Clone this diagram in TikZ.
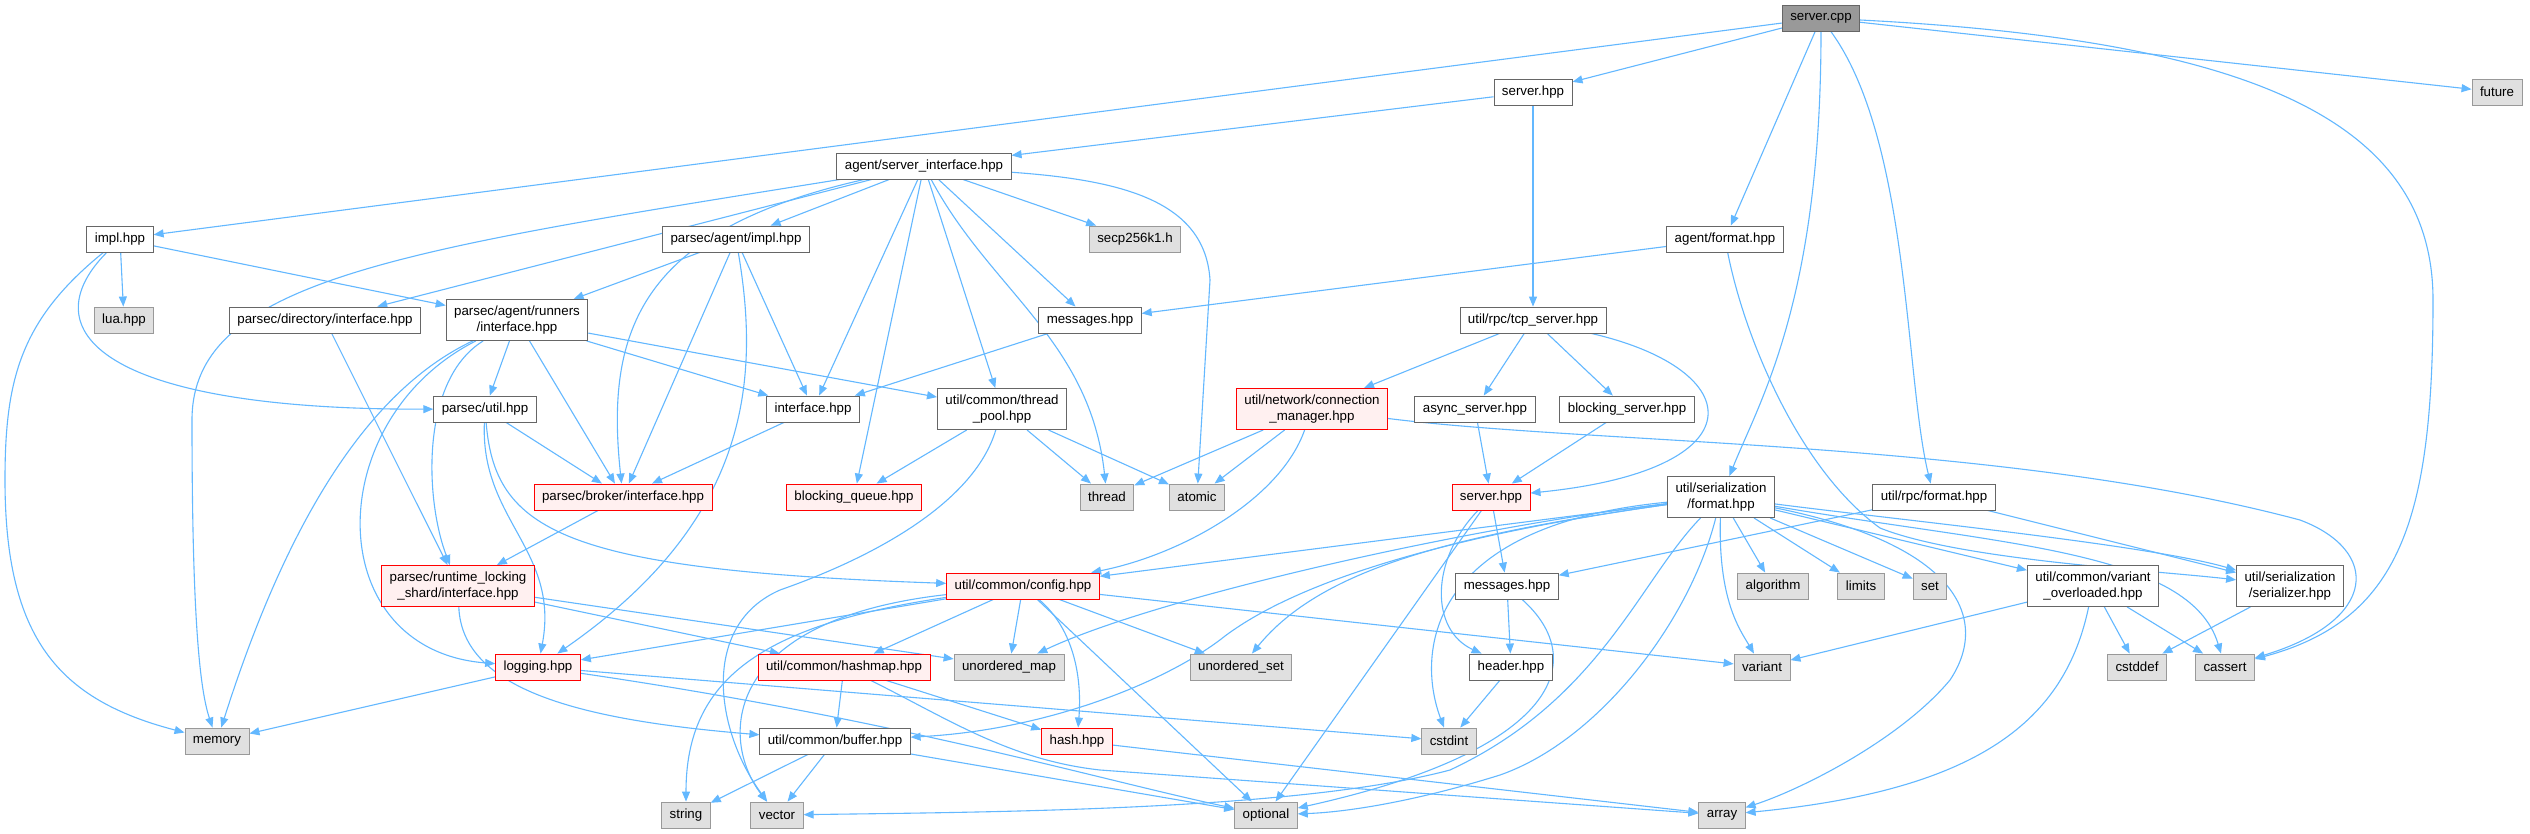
\documentclass[tikz,border=0pt]{standalone}
\usepackage{fontspec}
\setmainfont{Liberation Sans}
\usetikzlibrary{arrows.meta,backgrounds}
\definecolor{azul}{HTML}{63B8FF}
\definecolor{gris}{HTML}{666666}
\definecolor{grisclaro}{HTML}{E0E0E0}
\definecolor{bordesis}{HTML}{999999}
\definecolor{raizfill}{HTML}{999999}
\definecolor{rojo}{HTML}{FF0000}
\definecolor{rosa}{HTML}{FFF0F0}

\begin{document}
\begin{tikzpicture}[x=1pt,y=-1pt,line cap=round,
  every node/.style={font=\fontsize{13.3}{15.5}\selectfont,inner xsep=8pt,
    inner ysep=2pt,minimum height=26pt,line width=0.9pt},
  hdr/.style={draw=gris,fill=white},
  sys/.style={draw=bordesis,fill=grisclaro},
  roj/.style={draw=rojo,fill=rosa},
  raiz/.style={draw=gris,fill=raizfill},
  dos/.style={align=center,minimum height=41pt},
  dep/.style={azul,line width=1.1pt,-{Triangle[length=10pt,width=8pt]}}]
  \useasboundingbox (0,0) rectangle (2530,833);
  % fila 0-2
  \node[raiz] (srvcpp) at (1821,18) {server.cpp};
  \node[hdr] (srvh) at (1533,92) {server.hpp};
  \node[sys] (future) at (2497,92) {future};
  \node[hdr] (agsi) at (924,166) {agent/server\_interface.hpp};
  \node[hdr] (implh) at (120,239) {impl.hpp};
  \node[hdr] (agimpl) at (736,239) {parsec/agent/impl.hpp};
  \node[sys] (secp) at (1135,239) {secp256k1.h};
  \node[hdr] (agfmt) at (1725,239) {agent/format.hpp};
  % fila 3-4
  \node[sys] (lua) at (124,320) {lua.hpp};
  \node[hdr] (dirif) at (325,320) {parsec/directory/interface.hpp};
  \node[hdr,dos] (runif) at (517,320) {parsec/agent/runners\\/interface.hpp};
  \node[hdr] (msgu) at (1090,320) {messages.hpp};
  \node[hdr] (tcp) at (1533,320) {util/rpc/tcp\_server.hpp};
  \node[hdr] (putil) at (485,409) {parsec/util.hpp};
  \node[hdr] (ifh) at (813,409) {interface.hpp};
  \node[hdr,dos] (tpool) at (1002,409) {util/common/thread\\\_pool.hpp};
  \node[roj,dos] (connm) at (1312,409) {util/network/connection\\\_manager.hpp};
  \node[hdr] (async) at (1475,409) {async\_server.hpp};
  \node[hdr] (blks) at (1627,409) {blocking\_server.hpp};
  % fila 5-6
  \node[roj] (broker) at (623,497) {parsec/broker/interface.hpp};
  \node[roj] (bq) at (854,497) {blocking\_queue.hpp};
  \node[sys] (thread) at (1107,497) {thread};
  \node[sys] (atomic) at (1197,497) {atomic};
  \node[roj] (srvr) at (1491,497) {server.hpp};
  \node[hdr,dos] (serfmt) at (1721,497) {util/serialization\\/format.hpp};
  \node[hdr] (rpcfmt) at (1934,497) {util/rpc/format.hpp};
  \node[roj,dos] (rls) at (458,586) {parsec/runtime\_locking\\\_shard/interface.hpp};
  \node[roj] (config) at (1023,586) {util/common/config.hpp};
  \node[hdr] (msgl) at (1507,586) {messages.hpp};
  \node[sys] (algo) at (1773,586) {algorithm};
  \node[sys] (limits) at (1861,586) {limits};
  \node[sys] (set) at (1930,586) {set};
  \node[hdr,dos] (varov) at (2093,586) {util/common/variant\\\_overloaded.hpp};
  \node[hdr,dos] (serz) at (2290,586) {util/serialization\\/serializer.hpp};
  % fila 7-9
  \node[roj] (logging) at (538,667) {logging.hpp};
  \node[roj] (hashmap) at (844,667) {util/common/hashmap.hpp};
  \node[sys] (umap) at (1009,667) {unordered\_map};
  \node[sys] (uset) at (1241,667) {unordered\_set};
  \node[hdr] (header) at (1511,667) {header.hpp};
  \node[sys] (variant) at (1762,667) {variant};
  \node[sys] (cstddef) at (2137,667) {cstddef};
  \node[sys] (cassert) at (2225,667) {cassert};
  \node[sys] (memory) at (217,741) {memory};
  \node[hdr] (buffer) at (835,741) {util/common/buffer.hpp};
  \node[roj] (hash) at (1077,741) {hash.hpp};
  \node[sys] (cstdint) at (1449,741) {cstdint};
  \node[sys] (string) at (686,815) {string};
  \node[sys] (vector) at (777,815) {vector};
  \node[sys] (optional) at (1266,815) {optional};
  \node[sys] (array) at (1722,815) {array};

  \begin{scope}[on background layer]
  \fill[white] (0,0) rectangle (2530,833);
  % server.cpp
  \draw[dep] (srvcpp) -- (implh);
  \draw[dep] (srvcpp) -- (srvh);
  \draw[dep] (srvcpp) -- (agfmt);
  \draw[dep] (srvcpp) .. controls (1821,300) and (1760,400) .. (serfmt);
  \draw[dep] (srvcpp) .. controls (1910,140) and (1905,380) .. (rpcfmt);
  \draw[dep] (srvcpp) -- (future);
  \draw[dep] (srvcpp) .. controls (2250,40) and (2433,120) .. (2433,300)
        .. controls (2433,520) and (2400,620) .. (cassert);
  % server.hpp
  \draw[dep] (srvh) -- (agsi);
  \draw[dep] (srvh) -- (tcp);
  % agent/server_interface.hpp
  \draw[dep] (agsi) .. controls (400,250) and (192,280) .. (192,420)
        .. controls (192,620) and (200,690) .. (memory);
  \draw[dep] (agsi) -- (dirif);
  \draw[dep] (agsi) .. controls (640,230) and (605,330) .. (broker);
  \draw[dep] (agsi) -- (agimpl);
  \draw[dep] (agsi) -- (ifh);
  \draw[dep] (agsi) -- (bq);
  \draw[dep] (agsi) -- (tpool);
  \draw[dep] (agsi) .. controls (990,290) and (1090,340) .. (thread);
  \draw[dep] (agsi) -- (msgu);
  \draw[dep] (agsi) -- (secp);
  \draw[dep] (agsi) .. controls (1120,180) and (1205,200) .. (1210,280) -- (atomic);
  % impl.hpp
  \draw[dep] (implh) -- (lua);
  \draw[dep] (implh) -- (runif);
  \draw[dep] (implh) .. controls (30,330) and (100,410) .. (putil);
  \draw[dep] (implh) .. controls (20,320) and (5,380) .. (5,480)
        .. controls (5,640) and (60,700) .. (memory);
  % parsec/agent/impl.hpp
  \draw[dep] (agimpl) -- (runif);
  \draw[dep] (agimpl) -- (ifh);
  \draw[dep] (agimpl) -- (broker);
  \draw[dep] (agimpl) .. controls (760,380) and (750,520) .. (logging);
  % directory, runners
  \draw[dep] (dirif) -- (rls);
  \draw[dep] (runif) -- (putil);
  \draw[dep] (runif) -- (broker);
  \draw[dep] (runif) -- (ifh);
  \draw[dep] (runif) -- (tpool);
  \draw[dep] (runif) .. controls (390,380) and (300,480) .. (memory);
  \draw[dep] (runif) .. controls (320,420) and (320,650) .. (logging);
  \draw[dep] (runif) .. controls (420,380) and (425,500) .. (rls);
  % parsec/util.hpp
  \draw[dep] (putil) -- (broker);
  \draw[dep] (putil) .. controls (480,520) and (560,550) .. (logging);
  \draw[dep] (putil) .. controls (495,530) and (560,570) .. (config);
  \draw[dep] (ifh) -- (broker);
  \draw[dep] (msgu) -- (ifh);
  \draw[dep] (broker) -- (rls);
  % runtime_locking_shard
  \draw[dep] (rls) -- (umap);
  \draw[dep] (rls) -- (hashmap);
  \draw[dep] (rls) .. controls (462,690) and (580,720) .. (buffer);
  % config.hpp
  \draw[dep] (config) -- (logging);
  \draw[dep] (config) .. controls (760,625) and (686,680) .. (string);
  \draw[dep] (config) .. controls (720,620) and (720,740) .. (vector);
  \draw[dep] (config) -- (hashmap);
  \draw[dep] (config) -- (umap);
  \draw[dep] (config) .. controls (1075,630) and (1082,680) .. (hash);
  \draw[dep] (config) -- (optional);
  \draw[dep] (config) -- (uset);
  \draw[dep] (config) -- (variant);
  % hashmap, hash, buffer, logging
  \draw[dep] (hashmap) -- (buffer);
  \draw[dep] (hashmap) -- (hash);
  \draw[dep] (hashmap) .. controls (950,720) and (1010,760) .. (1100,770) -- (array);
  \draw[dep] (hash) -- (array);
  \draw[dep] (buffer) -- (string);
  \draw[dep] (buffer) -- (vector);
  \draw[dep] (buffer) -- (optional);
  \draw[dep] (logging) -- (memory);
  \draw[dep] (logging) -- (cstdint);
  \draw[dep] (logging) .. controls (900,720) and (1100,780) .. (optional);
  % thread_pool
  \draw[dep] (tpool) -- (bq);
  \draw[dep] (tpool) -- (thread);
  \draw[dep] (tpool) -- (atomic);
  \draw[dep] (tpool) .. controls (975,500) and (880,555) .. (780,590)
        .. controls (700,625) and (715,730) .. (vector);
  % connection_manager
  \draw[dep] (connm) -- (thread);
  \draw[dep] (connm) -- (atomic);
  \draw[dep] (connm) .. controls (1280,500) and (1180,555) .. (config);
  \draw[dep] (connm) .. controls (1600,445) and (2000,440) .. (2300,520)
        .. controls (2380,550) and (2380,620) .. (cassert);
  % tcp_server
  \draw[dep] (tcp) -- (connm);
  \draw[dep] (tcp) -- (async);
  \draw[dep] (tcp) -- (blks);
  \draw[dep] (tcp) .. controls (1750,370) and (1760,470) .. (srvr);
  \draw[dep] (async) -- (srvr);
  \draw[dep] (blks) -- (srvr);
  % server.hpp (rpc)
  \draw[dep] (srvr) -- (msgl);
  \draw[dep] (srvr) .. controls (1430,560) and (1430,630) .. (header);
  \draw[dep] (srvr) -- (optional);
  \draw[dep] (msgl) -- (header);
  \draw[dep] (msgl) .. controls (1590,660) and (1560,750) .. (optional);
  \draw[dep] (header) -- (cstdint);
  % agent/format, rpc/format
  \draw[dep] (agfmt) -- (msgu);
  \draw[dep] (agfmt) .. controls (1745,340) and (1800,470) .. (1880,528)
        .. controls (1960,560) and (2150,570) .. (serz);
  \draw[dep] (rpcfmt) -- (msgl);
  \draw[dep] (rpcfmt) -- (serz);
  % serialization/format
  \draw[dep] (serfmt) -- (config);
  \draw[dep] (serfmt) .. controls (1450,530) and (1150,600) .. (umap);
  \draw[dep] (serfmt) .. controls (1450,535) and (1320,570) .. (uset);
  \draw[dep] (serfmt) .. controls (1450,535) and (1300,580) .. (1225,636)
        .. controls (1170,680) and (1050,730) .. (buffer);
  \draw[dep] (serfmt) .. controls (1640,580) and (1600,700) .. (1450,770)
        .. controls (1300,810) and (1000,812) .. (vector);
  \draw[dep] (serfmt) .. controls (1690,620) and (1600,740) .. (1500,775)
        .. controls (1420,800) and (1350,812) .. (optional);
  \draw[dep] (serfmt) .. controls (1430,525) and (1415,650) .. (cstdint);
  \draw[dep] (serfmt) .. controls (1718,600) and (1740,630) .. (variant);
  \draw[dep] (serfmt) -- (algo);
  \draw[dep] (serfmt) -- (limits);
  \draw[dep] (serfmt) -- (set);
  \draw[dep] (serfmt) -- (varov);
  \draw[dep] (serfmt) .. controls (1900,520) and (2150,545) .. (serz);
  \draw[dep] (serfmt) .. controls (2000,545) and (2190,550) .. (cassert);
  \draw[dep] (serfmt) .. controls (1960,545) and (1990,620) .. (1950,680)
        .. controls (1900,740) and (1800,790) .. (array);
  % variant_overloaded, serializer
  \draw[dep] (varov) -- (variant);
  \draw[dep] (varov) -- (cstddef);
  \draw[dep] (varov) -- (cassert);
  \draw[dep] (varov) .. controls (2065,720) and (1980,790) .. (array);
  \draw[dep] (serz) -- (cstddef);
  \end{scope}
\end{tikzpicture}
\end{document}
